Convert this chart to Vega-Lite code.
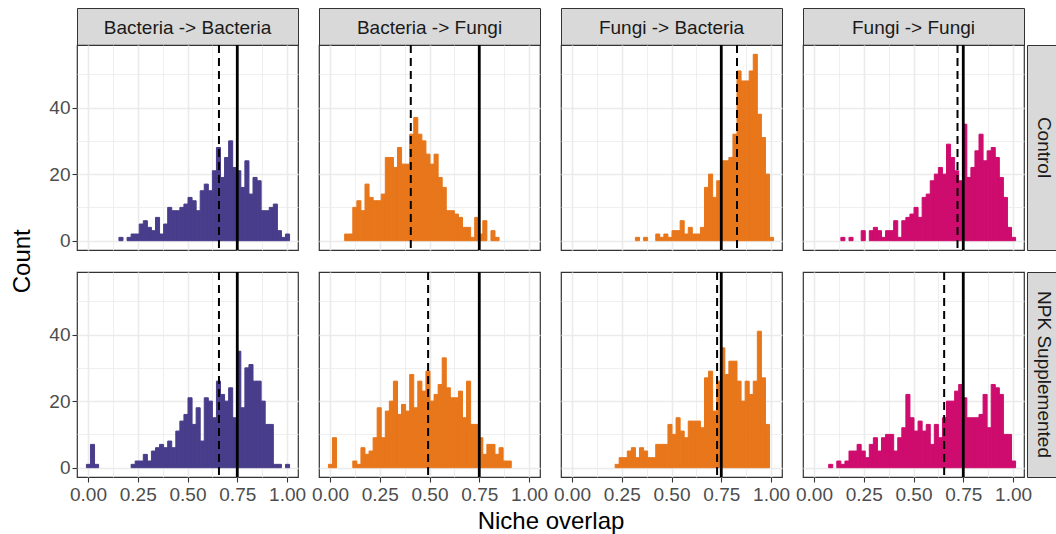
{
  "$schema": "https://vega.github.io/schema/vega-lite/v6.json",
  "background": "white",
  "padding": {"left": 9, "top": 7, "right": 0, "bottom": 0},
  "autosize": {"type": "pad"},
  "config": {
    "font": "Liberation Sans",
    "view": {"stroke": "#333333", "strokeWidth": 1.2},
    "axis": {"domain": false, "grid": true, "gridColor": "#EBEBEB", "tickSize": 5, "tickWidth": 1.1, "tickColor": "#333333", "labelPadding": 2, "labelFontSize": 19, "labelColor": "#4D4D4D", "labelFont": "Liberation Sans", "labelFlush": false, "labelOverlap": false, "titleFont": "Liberation Sans", "titleFontSize": 24, "titleFontWeight": "normal", "titleColor": "#000000"}
  },
  "datasets": {
    "bb_control": [{"x":0.1633,"n":1},{"x":0.2041,"n":1},{"x":0.2245,"n":2},{"x":0.2449,"n":2},{"x":0.2653,"n":5},{"x":0.2857,"n":6},{"x":0.3061,"n":4},{"x":0.3265,"n":3},{"x":0.3469,"n":7},{"x":0.3673,"n":2},{"x":0.3878,"n":5},{"x":0.4082,"n":10},{"x":0.4286,"n":9},{"x":0.449,"n":9},{"x":0.4694,"n":10},{"x":0.4898,"n":11},{"x":0.5102,"n":13},{"x":0.5306,"n":12},{"x":0.551,"n":9},{"x":0.5714,"n":15},{"x":0.5918,"n":17},{"x":0.6122,"n":15},{"x":0.6327,"n":21},{"x":0.6531,"n":28},{"x":0.6735,"n":19},{"x":0.6939,"n":25},{"x":0.7143,"n":30},{"x":0.7347,"n":22},{"x":0.7551,"n":21},{"x":0.7755,"n":16},{"x":0.7959,"n":24},{"x":0.8163,"n":14},{"x":0.8367,"n":19},{"x":0.8571,"n":18},{"x":0.8776,"n":9},{"x":0.898,"n":9},{"x":0.9184,"n":10},{"x":0.9388,"n":11},{"x":0.9592,"n":3},{"x":0.9796,"n":1},{"x":1,"n":2}],
    "bf_control": [{"x":0.0816,"n":2},{"x":0.102,"n":2},{"x":0.1224,"n":10},{"x":0.1429,"n":12},{"x":0.1633,"n":9},{"x":0.1837,"n":17},{"x":0.2041,"n":13},{"x":0.2245,"n":12},{"x":0.2449,"n":12},{"x":0.2653,"n":14},{"x":0.2857,"n":25},{"x":0.3061,"n":25},{"x":0.3265,"n":22},{"x":0.3469,"n":28},{"x":0.3673,"n":23},{"x":0.3878,"n":23},{"x":0.4082,"n":32},{"x":0.4286,"n":37},{"x":0.449,"n":32},{"x":0.4694,"n":30},{"x":0.4898,"n":26},{"x":0.5102,"n":23},{"x":0.5306,"n":26},{"x":0.551,"n":19},{"x":0.5714,"n":16},{"x":0.5918,"n":9},{"x":0.6122,"n":9},{"x":0.6327,"n":8},{"x":0.6531,"n":7},{"x":0.6735,"n":4},{"x":0.6939,"n":4},{"x":0.7143,"n":1},{"x":0.7347,"n":7},{"x":0.7551,"n":2},{"x":0.7755,"n":6},{"x":0.8163,"n":3},{"x":0.8367,"n":1}],
    "fb_control": [{"x":0.3265,"n":1},{"x":0.3673,"n":1},{"x":0.4286,"n":2},{"x":0.449,"n":1},{"x":0.4694,"n":2},{"x":0.4898,"n":1},{"x":0.5102,"n":3},{"x":0.5306,"n":3},{"x":0.551,"n":6},{"x":0.5714,"n":2},{"x":0.5918,"n":4},{"x":0.6122,"n":2},{"x":0.6327,"n":2},{"x":0.6531,"n":4},{"x":0.6735,"n":16},{"x":0.6939,"n":20},{"x":0.7143,"n":13},{"x":0.7347,"n":18},{"x":0.7551,"n":24},{"x":0.7755,"n":24},{"x":0.7959,"n":25},{"x":0.8163,"n":32},{"x":0.8367,"n":51},{"x":0.8571,"n":48},{"x":0.8776,"n":48},{"x":0.898,"n":51},{"x":0.9184,"n":56},{"x":0.9388,"n":38},{"x":0.9592,"n":31},{"x":0.9796,"n":20},{"x":1,"n":1}],
    "ff_control": [{"x":0.1429,"n":1},{"x":0.1837,"n":1},{"x":0.2449,"n":3},{"x":0.2857,"n":3},{"x":0.3061,"n":4},{"x":0.3265,"n":3},{"x":0.3469,"n":1},{"x":0.3673,"n":3},{"x":0.3878,"n":3},{"x":0.4082,"n":6},{"x":0.4286,"n":1},{"x":0.449,"n":6},{"x":0.4694,"n":7},{"x":0.4898,"n":8},{"x":0.5102,"n":10},{"x":0.5306,"n":7},{"x":0.551,"n":13},{"x":0.5714,"n":14},{"x":0.5918,"n":18},{"x":0.6122,"n":20},{"x":0.6327,"n":22},{"x":0.6531,"n":20},{"x":0.6735,"n":29},{"x":0.6939,"n":25},{"x":0.7143,"n":21},{"x":0.7347,"n":18},{"x":0.7551,"n":35},{"x":0.7755,"n":19},{"x":0.7959,"n":22},{"x":0.8163,"n":27},{"x":0.8367,"n":32},{"x":0.8571,"n":24},{"x":0.8776,"n":27},{"x":0.898,"n":28},{"x":0.9184,"n":25},{"x":0.9388,"n":19},{"x":0.9592,"n":13},{"x":0.9796,"n":4},{"x":1,"n":1}],
    "bb_npk": [{"x":0,"n":1},{"x":0.0204,"n":7},{"x":0.0408,"n":1},{"x":0.2245,"n":1},{"x":0.2449,"n":2},{"x":0.2653,"n":2},{"x":0.2857,"n":4},{"x":0.3061,"n":2},{"x":0.3265,"n":5},{"x":0.3469,"n":6},{"x":0.3673,"n":7},{"x":0.3878,"n":6},{"x":0.4082,"n":8},{"x":0.4286,"n":6},{"x":0.449,"n":11},{"x":0.4694,"n":14},{"x":0.4898,"n":16},{"x":0.5102,"n":21},{"x":0.5306,"n":13},{"x":0.551,"n":18},{"x":0.5714,"n":8},{"x":0.5918,"n":21},{"x":0.6122,"n":20},{"x":0.6327,"n":15},{"x":0.6531,"n":26},{"x":0.6735,"n":22},{"x":0.6939,"n":20},{"x":0.7143,"n":24},{"x":0.7347,"n":15},{"x":0.7551,"n":35},{"x":0.7755,"n":18},{"x":0.7959,"n":30},{"x":0.8163,"n":31},{"x":0.8367,"n":26},{"x":0.8571,"n":26},{"x":0.8776,"n":20},{"x":0.898,"n":13},{"x":0.9184,"n":13},{"x":0.9388,"n":1},{"x":0.9592,"n":1},{"x":1,"n":1}],
    "bf_npk": [{"x":0,"n":1},{"x":0.0204,"n":9},{"x":0.1224,"n":2},{"x":0.1429,"n":1},{"x":0.1633,"n":6},{"x":0.1837,"n":4},{"x":0.2041,"n":5},{"x":0.2245,"n":9},{"x":0.2449,"n":18},{"x":0.2653,"n":9},{"x":0.2857,"n":17},{"x":0.3061,"n":20},{"x":0.3265,"n":26},{"x":0.3469,"n":16},{"x":0.3673,"n":19},{"x":0.3878,"n":17},{"x":0.4082,"n":28},{"x":0.4286,"n":18},{"x":0.449,"n":26},{"x":0.4694,"n":23},{"x":0.4898,"n":29},{"x":0.5102,"n":20},{"x":0.5306,"n":22},{"x":0.551,"n":25},{"x":0.5714,"n":33},{"x":0.5918,"n":24},{"x":0.6122,"n":21},{"x":0.6327,"n":21},{"x":0.6531,"n":23},{"x":0.6735,"n":15},{"x":0.6939,"n":26},{"x":0.7143,"n":13},{"x":0.7347,"n":13},{"x":0.7551,"n":9},{"x":0.7755,"n":4},{"x":0.7959,"n":7},{"x":0.8163,"n":7},{"x":0.8367,"n":4},{"x":0.8571,"n":6},{"x":0.8776,"n":2},{"x":0.898,"n":2}],
    "fb_npk": [{"x":0.2245,"n":1},{"x":0.2449,"n":3},{"x":0.2653,"n":3},{"x":0.2857,"n":5},{"x":0.3061,"n":6},{"x":0.3265,"n":3},{"x":0.3469,"n":6},{"x":0.3673,"n":5},{"x":0.3878,"n":3},{"x":0.4082,"n":3},{"x":0.4286,"n":7},{"x":0.449,"n":7},{"x":0.4694,"n":7},{"x":0.4898,"n":13},{"x":0.5102,"n":10},{"x":0.5306,"n":15},{"x":0.551,"n":11},{"x":0.5714,"n":9},{"x":0.5918,"n":14},{"x":0.6122,"n":14},{"x":0.6327,"n":14},{"x":0.6531,"n":12},{"x":0.6735,"n":27},{"x":0.6939,"n":29},{"x":0.7143,"n":17},{"x":0.7347,"n":26},{"x":0.7551,"n":36},{"x":0.7755,"n":28},{"x":0.7959,"n":32},{"x":0.8163,"n":32},{"x":0.8367,"n":26},{"x":0.8571,"n":20},{"x":0.8776,"n":26},{"x":0.898,"n":22},{"x":0.9184,"n":26},{"x":0.9388,"n":41},{"x":0.9592,"n":27},{"x":0.9796,"n":13}],
    "ff_npk": [{"x":0.0816,"n":1},{"x":0.1224,"n":2},{"x":0.1429,"n":1},{"x":0.1633,"n":2},{"x":0.1837,"n":5},{"x":0.2041,"n":5},{"x":0.2245,"n":7},{"x":0.2449,"n":5},{"x":0.2653,"n":3},{"x":0.2857,"n":7},{"x":0.3061,"n":9},{"x":0.3265,"n":5},{"x":0.3469,"n":9},{"x":0.3673,"n":10},{"x":0.3878,"n":10},{"x":0.4082,"n":5},{"x":0.4286,"n":9},{"x":0.449,"n":12},{"x":0.4694,"n":22},{"x":0.4898,"n":15},{"x":0.5102,"n":11},{"x":0.5306,"n":14},{"x":0.551,"n":11},{"x":0.5714,"n":13},{"x":0.5918,"n":7},{"x":0.6122,"n":13},{"x":0.6327,"n":9},{"x":0.6531,"n":15},{"x":0.6735,"n":20},{"x":0.6939,"n":20},{"x":0.7143,"n":23},{"x":0.7347,"n":25},{"x":0.7551,"n":21},{"x":0.7755,"n":15},{"x":0.7959,"n":15},{"x":0.8163,"n":15},{"x":0.8367,"n":16},{"x":0.8571,"n":22},{"x":0.8776,"n":12},{"x":0.898,"n":25},{"x":0.9184,"n":24},{"x":0.9388,"n":22},{"x":0.9592,"n":10},{"x":0.9796,"n":10},{"x":1,"n":2}]
  },
  "columns": 8,
  "align": "each",
  "bounds": "flush",
  "spacing": {"row": 0, "column": 3},
  "concat": [
    {"width": 221, "height": 37, "view": {"fill": "#D9D9D9", "stroke": "#333333"}, "data": {"values": [{"label": "Bacteria -> Bacteria"}]}, "mark": {"type": "text", "fontSize": 19, "color": "#1A1A1A", "dy": 1}, "encoding": {"text": {"field": "label"}}},
    {"width": 14.5, "height": 1, "view": {"stroke": null}, "data": {"values": []}, "mark": {"type": "text"}, "encoding": {"text": {"field": "label"}}},
    {"width": 221, "height": 37, "view": {"fill": "#D9D9D9", "stroke": "#333333"}, "data": {"values": [{"label": "Bacteria -> Fungi"}]}, "mark": {"type": "text", "fontSize": 19, "color": "#1A1A1A", "dy": 1}, "encoding": {"text": {"field": "label"}}},
    {"width": 14.5, "height": 1, "view": {"stroke": null}, "data": {"values": []}, "mark": {"type": "text"}, "encoding": {"text": {"field": "label"}}},
    {"width": 221, "height": 37, "view": {"fill": "#D9D9D9", "stroke": "#333333"}, "data": {"values": [{"label": "Fungi -> Bacteria"}]}, "mark": {"type": "text", "fontSize": 19, "color": "#1A1A1A", "dy": 1}, "encoding": {"text": {"field": "label"}}},
    {"width": 14.5, "height": 1, "view": {"stroke": null}, "data": {"values": []}, "mark": {"type": "text"}, "encoding": {"text": {"field": "label"}}},
    {"width": 221, "height": 37, "view": {"fill": "#D9D9D9", "stroke": "#333333"}, "data": {"values": [{"label": "Fungi -> Fungi"}]}, "mark": {"type": "text", "fontSize": 19, "color": "#1A1A1A", "dy": 1}, "encoding": {"text": {"field": "label"}}},
    {"width": 29, "height": 1, "view": {"stroke": null}, "data": {"values": []}, "mark": {"type": "text"}, "encoding": {"text": {"field": "label"}}},

    {"width": 221, "height": 205, "layer": [
      {"data": {"name": "bb_control"}, "mark": {"type": "bar", "binSpacing": 0, "color": "#483D8B", "stroke": "#483D8B", "strokeWidth": 1},
       "encoding": {
         "x": {"field": "x", "type": "quantitative", "bin": {"step": 0.02040816326530612, "extent": [-0.01020408163265306, 1.010204081632653], "nice": false}, "scale": {"domain": [-0.055, 1.055], "nice": false, "zero": false}, "axis": {"grid": true, "values": [0,0.125,0.25,0.375,0.5,0.625,0.75,0.875,1], "labels": false, "ticks": false, "title": null, "gridWidth": {"condition": {"test": "datum.value % 0.25 == 0", "value": 1.6}, "value": 0.8}}},
         "y": {"aggregate": "sum", "field": "n", "type": "quantitative", "scale": {"domain": [-2.8, 58.8], "nice": false, "zero": false}, "axis": {"values": [0,10,20,30,40,50], "title": "Count", "titleY": 215.75, "titlePadding": 14.4, "labelExpr": "datum.value % 20 == 0 ? format(datum.value, 'd') : ''", "tickOpacity": {"condition": {"test": "datum.value % 20 == 0", "value": 1}, "value": 0}, "gridWidth": {"condition": {"test": "datum.value % 20 == 0", "value": 1.6}, "value": 0.8}}}
       }},
      {"data": {"values": [{"stat": "threshold", "v": 0.75}]}, "mark": {"type": "rule", "color": "#000000", "strokeWidth": 2.8}, "encoding": {"x": {"field": "v", "type": "quantitative"}}},
      {"data": {"values": [{"stat": "mean", "v": 0.658}]}, "mark": {"type": "rule", "color": "#000000", "strokeWidth": 2, "strokeDash": [8, 5]}, "encoding": {"x": {"field": "v", "type": "quantitative"}}}
    ]},
    {"width": 14.5, "height": 1, "view": {"stroke": null}, "data": {"values": []}, "mark": {"type": "text"}, "encoding": {"text": {"field": "label"}}},
    {"width": 221, "height": 205, "layer": [
      {"data": {"name": "bf_control"}, "mark": {"type": "bar", "binSpacing": 0, "color": "#E8761A", "stroke": "#E8761A", "strokeWidth": 1},
       "encoding": {
         "x": {"field": "x", "type": "quantitative", "bin": {"step": 0.02040816326530612, "extent": [-0.01020408163265306, 1.010204081632653], "nice": false}, "scale": {"domain": [-0.055, 1.055], "nice": false, "zero": false}, "axis": {"grid": true, "values": [0,0.125,0.25,0.375,0.5,0.625,0.75,0.875,1], "labels": false, "ticks": false, "title": null, "gridWidth": {"condition": {"test": "datum.value % 0.25 == 0", "value": 1.6}, "value": 0.8}}},
         "y": {"aggregate": "sum", "field": "n", "type": "quantitative", "scale": {"domain": [-2.8, 58.8], "nice": false, "zero": false}, "axis": {"values": [0,10,20,30,40,50], "title": null, "labels": false, "ticks": false, "gridWidth": {"condition": {"test": "datum.value % 20 == 0", "value": 1.6}, "value": 0.8}}}
       }},
      {"data": {"values": [{"stat": "threshold", "v": 0.75}]}, "mark": {"type": "rule", "color": "#000000", "strokeWidth": 2.8}, "encoding": {"x": {"field": "v", "type": "quantitative"}}},
      {"data": {"values": [{"stat": "mean", "v": 0.406}]}, "mark": {"type": "rule", "color": "#000000", "strokeWidth": 2, "strokeDash": [8, 5]}, "encoding": {"x": {"field": "v", "type": "quantitative"}}}
    ]},
    {"width": 14.5, "height": 1, "view": {"stroke": null}, "data": {"values": []}, "mark": {"type": "text"}, "encoding": {"text": {"field": "label"}}},
    {"width": 221, "height": 205, "layer": [
      {"data": {"name": "fb_control"}, "mark": {"type": "bar", "binSpacing": 0, "color": "#E8761A", "stroke": "#E8761A", "strokeWidth": 1},
       "encoding": {
         "x": {"field": "x", "type": "quantitative", "bin": {"step": 0.02040816326530612, "extent": [-0.01020408163265306, 1.010204081632653], "nice": false}, "scale": {"domain": [-0.055, 1.055], "nice": false, "zero": false}, "axis": {"grid": true, "values": [0,0.125,0.25,0.375,0.5,0.625,0.75,0.875,1], "labels": false, "ticks": false, "title": null, "gridWidth": {"condition": {"test": "datum.value % 0.25 == 0", "value": 1.6}, "value": 0.8}}},
         "y": {"aggregate": "sum", "field": "n", "type": "quantitative", "scale": {"domain": [-2.8, 58.8], "nice": false, "zero": false}, "axis": {"values": [0,10,20,30,40,50], "title": null, "labels": false, "ticks": false, "gridWidth": {"condition": {"test": "datum.value % 20 == 0", "value": 1.6}, "value": 0.8}}}
       }},
      {"data": {"values": [{"stat": "threshold", "v": 0.75}]}, "mark": {"type": "rule", "color": "#000000", "strokeWidth": 2.8}, "encoding": {"x": {"field": "v", "type": "quantitative"}}},
      {"data": {"values": [{"stat": "mean", "v": 0.829}]}, "mark": {"type": "rule", "color": "#000000", "strokeWidth": 2, "strokeDash": [8, 5]}, "encoding": {"x": {"field": "v", "type": "quantitative"}}}
    ]},
    {"width": 14.5, "height": 1, "view": {"stroke": null}, "data": {"values": []}, "mark": {"type": "text"}, "encoding": {"text": {"field": "label"}}},
    {"width": 221, "height": 205, "layer": [
      {"data": {"name": "ff_control"}, "mark": {"type": "bar", "binSpacing": 0, "color": "#CE0C6E", "stroke": "#CE0C6E", "strokeWidth": 1},
       "encoding": {
         "x": {"field": "x", "type": "quantitative", "bin": {"step": 0.02040816326530612, "extent": [-0.01020408163265306, 1.010204081632653], "nice": false}, "scale": {"domain": [-0.055, 1.055], "nice": false, "zero": false}, "axis": {"grid": true, "values": [0,0.125,0.25,0.375,0.5,0.625,0.75,0.875,1], "labels": false, "ticks": false, "title": null, "gridWidth": {"condition": {"test": "datum.value % 0.25 == 0", "value": 1.6}, "value": 0.8}}},
         "y": {"aggregate": "sum", "field": "n", "type": "quantitative", "scale": {"domain": [-2.8, 58.8], "nice": false, "zero": false}, "axis": {"values": [0,10,20,30,40,50], "title": null, "labels": false, "ticks": false, "gridWidth": {"condition": {"test": "datum.value % 20 == 0", "value": 1.6}, "value": 0.8}}}
       }},
      {"data": {"values": [{"stat": "threshold", "v": 0.75}]}, "mark": {"type": "rule", "color": "#000000", "strokeWidth": 2.8}, "encoding": {"x": {"field": "v", "type": "quantitative"}}},
      {"data": {"values": [{"stat": "mean", "v": 0.721}]}, "mark": {"type": "rule", "color": "#000000", "strokeWidth": 2, "strokeDash": [8, 5]}, "encoding": {"x": {"field": "v", "type": "quantitative"}}}
    ]},
    {"width": 29, "height": 205, "view": {"fill": "#D9D9D9", "stroke": "#333333"}, "data": {"values": [{"label": "Control"}]}, "mark": {"type": "text", "fontSize": 19, "color": "#1A1A1A", "angle": 90, "dy": -2}, "encoding": {"text": {"field": "label"}}},

    {"width": 1, "height": 21.5, "view": {"stroke": null}, "data": {"values": []}, "mark": {"type": "text"}, "encoding": {"text": {"field": "label"}}},
    {"width": 14.5, "height": 1, "view": {"stroke": null}, "data": {"values": []}, "mark": {"type": "text"}, "encoding": {"text": {"field": "label"}}},
    {"width": 1, "height": 1, "view": {"stroke": null}, "data": {"values": []}, "mark": {"type": "text"}, "encoding": {"text": {"field": "label"}}},
    {"width": 14.5, "height": 1, "view": {"stroke": null}, "data": {"values": []}, "mark": {"type": "text"}, "encoding": {"text": {"field": "label"}}},
    {"width": 1, "height": 1, "view": {"stroke": null}, "data": {"values": []}, "mark": {"type": "text"}, "encoding": {"text": {"field": "label"}}},
    {"width": 14.5, "height": 1, "view": {"stroke": null}, "data": {"values": []}, "mark": {"type": "text"}, "encoding": {"text": {"field": "label"}}},
    {"width": 1, "height": 1, "view": {"stroke": null}, "data": {"values": []}, "mark": {"type": "text"}, "encoding": {"text": {"field": "label"}}},
    {"width": 1, "height": 1, "view": {"stroke": null}, "data": {"values": []}, "mark": {"type": "text"}, "encoding": {"text": {"field": "label"}}},

    {"width": 221, "height": 205, "layer": [
      {"data": {"name": "bb_npk"}, "mark": {"type": "bar", "binSpacing": 0, "color": "#483D8B", "stroke": "#483D8B", "strokeWidth": 1},
       "encoding": {
         "x": {"field": "x", "type": "quantitative", "bin": {"step": 0.02040816326530612, "extent": [-0.01020408163265306, 1.010204081632653], "nice": false}, "scale": {"domain": [-0.055, 1.055], "nice": false, "zero": false}, "axis": {"grid": true, "values": [0,0.125,0.25,0.375,0.5,0.625,0.75,0.875,1], "title": null, "labelPadding": 3, "labelExpr": "datum.value % 0.25 == 0 ? format(datum.value, '.2f') : ''", "tickOpacity": {"condition": {"test": "datum.value % 0.25 == 0", "value": 1}, "value": 0}, "gridWidth": {"condition": {"test": "datum.value % 0.25 == 0", "value": 1.6}, "value": 0.8}}},
         "y": {"aggregate": "sum", "field": "n", "type": "quantitative", "scale": {"domain": [-2.8, 58.8], "nice": false, "zero": false}, "axis": {"values": [0,10,20,30,40,50], "title": null, "labelExpr": "datum.value % 20 == 0 ? format(datum.value, 'd') : ''", "tickOpacity": {"condition": {"test": "datum.value % 20 == 0", "value": 1}, "value": 0}, "gridWidth": {"condition": {"test": "datum.value % 20 == 0", "value": 1.6}, "value": 0.8}}}
       }},
      {"data": {"values": [{"stat": "threshold", "v": 0.75}]}, "mark": {"type": "rule", "color": "#000000", "strokeWidth": 2.8}, "encoding": {"x": {"field": "v", "type": "quantitative"}}},
      {"data": {"values": [{"stat": "mean", "v": 0.658}]}, "mark": {"type": "rule", "color": "#000000", "strokeWidth": 2, "strokeDash": [8, 5]}, "encoding": {"x": {"field": "v", "type": "quantitative"}}}
    ]},
    {"width": 14.5, "height": 1, "view": {"stroke": null}, "data": {"values": []}, "mark": {"type": "text"}, "encoding": {"text": {"field": "label"}}},
    {"width": 221, "height": 205, "layer": [
      {"data": {"name": "bf_npk"}, "mark": {"type": "bar", "binSpacing": 0, "color": "#E8761A", "stroke": "#E8761A", "strokeWidth": 1},
       "encoding": {
         "x": {"field": "x", "type": "quantitative", "bin": {"step": 0.02040816326530612, "extent": [-0.01020408163265306, 1.010204081632653], "nice": false}, "scale": {"domain": [-0.055, 1.055], "nice": false, "zero": false}, "axis": {"grid": true, "values": [0,0.125,0.25,0.375,0.5,0.625,0.75,0.875,1], "title": "Niche overlap", "titleX": 231.5, "titlePadding": 5, "labelPadding": 3, "labelExpr": "datum.value % 0.25 == 0 ? format(datum.value, '.2f') : ''", "tickOpacity": {"condition": {"test": "datum.value % 0.25 == 0", "value": 1}, "value": 0}, "gridWidth": {"condition": {"test": "datum.value % 0.25 == 0", "value": 1.6}, "value": 0.8}}},
         "y": {"aggregate": "sum", "field": "n", "type": "quantitative", "scale": {"domain": [-2.8, 58.8], "nice": false, "zero": false}, "axis": {"values": [0,10,20,30,40,50], "title": null, "labels": false, "ticks": false, "gridWidth": {"condition": {"test": "datum.value % 20 == 0", "value": 1.6}, "value": 0.8}}}
       }},
      {"data": {"values": [{"stat": "threshold", "v": 0.75}]}, "mark": {"type": "rule", "color": "#000000", "strokeWidth": 2.8}, "encoding": {"x": {"field": "v", "type": "quantitative"}}},
      {"data": {"values": [{"stat": "mean", "v": 0.493}]}, "mark": {"type": "rule", "color": "#000000", "strokeWidth": 2, "strokeDash": [8, 5]}, "encoding": {"x": {"field": "v", "type": "quantitative"}}}
    ]},
    {"width": 14.5, "height": 1, "view": {"stroke": null}, "data": {"values": []}, "mark": {"type": "text"}, "encoding": {"text": {"field": "label"}}},
    {"width": 221, "height": 205, "layer": [
      {"data": {"name": "fb_npk"}, "mark": {"type": "bar", "binSpacing": 0, "color": "#E8761A", "stroke": "#E8761A", "strokeWidth": 1},
       "encoding": {
         "x": {"field": "x", "type": "quantitative", "bin": {"step": 0.02040816326530612, "extent": [-0.01020408163265306, 1.010204081632653], "nice": false}, "scale": {"domain": [-0.055, 1.055], "nice": false, "zero": false}, "axis": {"grid": true, "values": [0,0.125,0.25,0.375,0.5,0.625,0.75,0.875,1], "title": null, "labelPadding": 3, "labelExpr": "datum.value % 0.25 == 0 ? format(datum.value, '.2f') : ''", "tickOpacity": {"condition": {"test": "datum.value % 0.25 == 0", "value": 1}, "value": 0}, "gridWidth": {"condition": {"test": "datum.value % 0.25 == 0", "value": 1.6}, "value": 0.8}}},
         "y": {"aggregate": "sum", "field": "n", "type": "quantitative", "scale": {"domain": [-2.8, 58.8], "nice": false, "zero": false}, "axis": {"values": [0,10,20,30,40,50], "title": null, "labels": false, "ticks": false, "gridWidth": {"condition": {"test": "datum.value % 20 == 0", "value": 1.6}, "value": 0.8}}}
       }},
      {"data": {"values": [{"stat": "threshold", "v": 0.75}]}, "mark": {"type": "rule", "color": "#000000", "strokeWidth": 2.8}, "encoding": {"x": {"field": "v", "type": "quantitative"}}},
      {"data": {"values": [{"stat": "mean", "v": 0.729}]}, "mark": {"type": "rule", "color": "#000000", "strokeWidth": 2, "strokeDash": [8, 5]}, "encoding": {"x": {"field": "v", "type": "quantitative"}}}
    ]},
    {"width": 14.5, "height": 1, "view": {"stroke": null}, "data": {"values": []}, "mark": {"type": "text"}, "encoding": {"text": {"field": "label"}}},
    {"width": 221, "height": 205, "layer": [
      {"data": {"name": "ff_npk"}, "mark": {"type": "bar", "binSpacing": 0, "color": "#CE0C6E", "stroke": "#CE0C6E", "strokeWidth": 1},
       "encoding": {
         "x": {"field": "x", "type": "quantitative", "bin": {"step": 0.02040816326530612, "extent": [-0.01020408163265306, 1.010204081632653], "nice": false}, "scale": {"domain": [-0.055, 1.055], "nice": false, "zero": false}, "axis": {"grid": true, "values": [0,0.125,0.25,0.375,0.5,0.625,0.75,0.875,1], "title": null, "labelPadding": 3, "labelExpr": "datum.value % 0.25 == 0 ? format(datum.value, '.2f') : ''", "tickOpacity": {"condition": {"test": "datum.value % 0.25 == 0", "value": 1}, "value": 0}, "gridWidth": {"condition": {"test": "datum.value % 0.25 == 0", "value": 1.6}, "value": 0.8}}},
         "y": {"aggregate": "sum", "field": "n", "type": "quantitative", "scale": {"domain": [-2.8, 58.8], "nice": false, "zero": false}, "axis": {"values": [0,10,20,30,40,50], "title": null, "labels": false, "ticks": false, "gridWidth": {"condition": {"test": "datum.value % 20 == 0", "value": 1.6}, "value": 0.8}}}
       }},
      {"data": {"values": [{"stat": "threshold", "v": 0.75}]}, "mark": {"type": "rule", "color": "#000000", "strokeWidth": 2.8}, "encoding": {"x": {"field": "v", "type": "quantitative"}}},
      {"data": {"values": [{"stat": "mean", "v": 0.654}]}, "mark": {"type": "rule", "color": "#000000", "strokeWidth": 2, "strokeDash": [8, 5]}, "encoding": {"x": {"field": "v", "type": "quantitative"}}}
    ]},
    {"width": 29, "height": 205, "view": {"fill": "#D9D9D9", "stroke": "#333333"}, "data": {"values": [{"label": "NPK Supplemented"}]}, "mark": {"type": "text", "fontSize": 19, "color": "#1A1A1A", "angle": 90, "dy": -2}, "encoding": {"text": {"field": "label"}}}
  ]
}
